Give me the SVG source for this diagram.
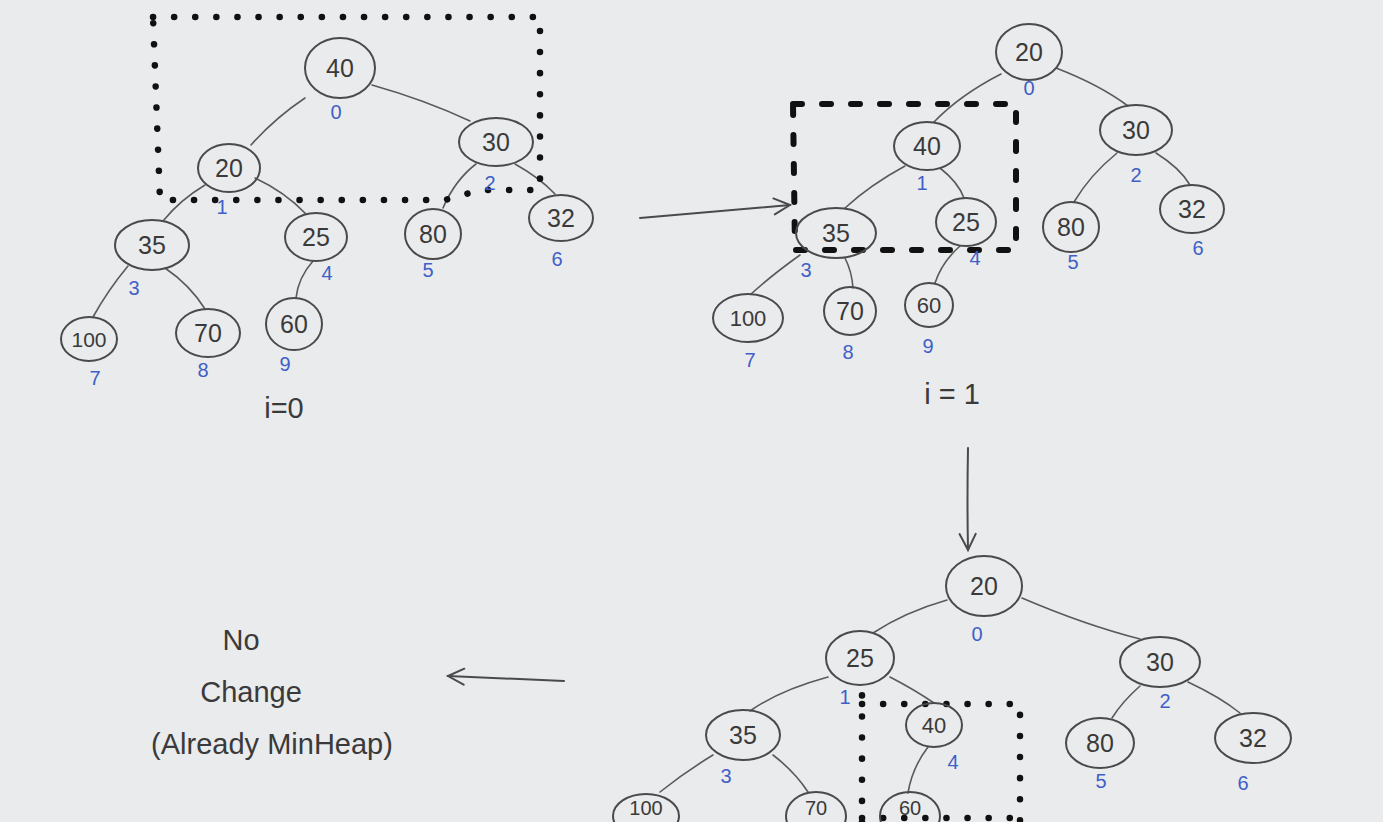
<svg xmlns="http://www.w3.org/2000/svg" width="1383" height="822" viewBox="0 0 1383 822">
<defs>
<style>
.bg{fill:#eaebed}
.n ellipse{fill:none;stroke:#4a4a4a;stroke-width:2}
.v{font-family:"Liberation Sans",Arial,sans-serif;font-size:25px;fill:#3a3a3a;text-anchor:middle;dominant-baseline:central}
.ix{font-family:"Liberation Sans",Arial,sans-serif;font-size:20px;fill:#3f5fc8;text-anchor:middle;dominant-baseline:central}
.lbl{font-family:"Liberation Sans",Arial,sans-serif;font-size:29px;fill:#3a3a3a;text-anchor:middle;dominant-baseline:central}
.e{fill:none;stroke:#5a5a5a;stroke-width:1.6;stroke-linecap:round}
.arr{fill:none;stroke:#4a4a4a;stroke-width:2;stroke-linecap:round}
.dot{fill:none;stroke:#111;stroke-width:6.5;stroke-linecap:round;stroke-dasharray:0.1 21}
.dash{fill:none;stroke:#111;stroke-width:6;stroke-linecap:round;stroke-dasharray:9 20}
</style>
<marker id="chev" viewBox="0 0 20 20" refX="18" refY="10" markerWidth="20" markerHeight="20" markerUnits="userSpaceOnUse" orient="auto">
<path d="M2,2 L18,10 L2,18" fill="none" stroke="#4a4a4a" stroke-width="2" stroke-linecap="round"/>
</marker>
</defs>
<rect class="bg" x="0" y="0" width="1383" height="822"/>

<g id="connectors">
<!-- tree 1 -->
<path class="e" d="M305,98 Q275,118 251,145"/>
<path class="e" d="M372,85 Q425,100 470,121"/>
<path class="e" d="M205,185 Q180,200 163,221"/>
<path class="e" d="M255,178 Q285,192 306,214"/>
<path class="e" d="M476,164 Q455,180 443,208"/>
<path class="e" d="M515,164 Q540,178 555,194"/>
<path class="e" d="M128,266 Q108,290 93,317"/>
<path class="e" d="M165,268 Q190,285 205,309"/>
<path class="e" d="M313,261 Q298,278 296,298"/>
<!-- tree 2 -->
<path class="e" d="M1001,74 Q960,95 934,122"/>
<path class="e" d="M1056,68 Q1100,85 1128,106"/>
<path class="e" d="M905,166 Q870,185 845,208"/>
<path class="e" d="M940,168 Q958,182 964,198"/>
<path class="e" d="M1117,153 Q1090,175 1074,202"/>
<path class="e" d="M1156,153 Q1180,168 1190,185"/>
<path class="e" d="M800,255 Q772,275 751,294"/>
<path class="e" d="M845,258 Q852,272 853,288"/>
<path class="e" d="M960,246 Q942,262 935,283"/>
<!-- tree 3 -->
<path class="e" d="M947,600 Q905,612 873,633"/>
<path class="e" d="M1022,598 Q1085,625 1140,639"/>
<path class="e" d="M828,677 Q780,690 750,711"/>
<path class="e" d="M890,677 Q915,690 934,703"/>
<path class="e" d="M1140,686 Q1122,702 1112,718"/>
<path class="e" d="M1188,682 Q1220,697 1240,713"/>
<path class="e" d="M713,755 Q685,772 660,792"/>
<path class="e" d="M773,755 Q795,772 808,792"/>
<path class="e" d="M928,747 Q912,768 908,793"/>
<!-- arrows between stages -->
<path class="arr" d="M640,218 L790,205" marker-end="url(#chev)"/>
<path class="arr" d="M968,448 Q967,500 968,550" marker-end="url(#chev)"/>
<path class="arr" d="M564,681 L448,676" marker-end="url(#chev)"/>
</g>

<g id="highlight-boxes">
<path class="dot" d="M153,17 H540 V190 H480 L445,200 H160 Z"/>
<path class="dash" d="M793,104 H1016 V250 H795 Z"/>
<path class="dot" d="M862,822 V690 M862,704 H1020 V822 M862,818 H1020"/>
</g>

<!-- Tree 1 (i=0) -->
<g id="t1-n0" class="n"><ellipse cx="340" cy="68" rx="35" ry="30"/><text class="v" x="340" y="68">40</text><text class="ix" x="336" y="112">0</text></g>
<g id="t1-n1" class="n"><ellipse cx="229" cy="168" rx="31" ry="24"/><text class="v" x="229" y="168">20</text><text class="ix" x="222" y="207">1</text></g>
<g id="t1-n2" class="n"><ellipse cx="496" cy="142" rx="37" ry="24"/><text class="v" x="496" y="142">30</text><text class="ix" x="490" y="183">2</text></g>
<g id="t1-n3" class="n"><ellipse cx="152" cy="245" rx="37" ry="25"/><text class="v" x="152" y="245">35</text><text class="ix" x="134" y="288">3</text></g>
<g id="t1-n4" class="n"><ellipse cx="316" cy="237" rx="31" ry="24"/><text class="v" x="316" y="237">25</text><text class="ix" x="327" y="273">4</text></g>
<g id="t1-n5" class="n"><ellipse cx="433" cy="234" rx="28" ry="25"/><text class="v" x="433" y="234">80</text><text class="ix" x="428" y="270">5</text></g>
<g id="t1-n6" class="n"><ellipse cx="561" cy="218" rx="32" ry="23"/><text class="v" x="561" y="218">32</text><text class="ix" x="557" y="259">6</text></g>
<g id="t1-n7" class="n"><ellipse cx="89" cy="339" rx="28" ry="22"/><text class="v" x="89" y="339" style="font-size:21px">100</text><text class="ix" x="95" y="378">7</text></g>
<g id="t1-n8" class="n"><ellipse cx="208" cy="333" rx="32" ry="24"/><text class="v" x="208" y="333">70</text><text class="ix" x="203" y="370">8</text></g>
<g id="t1-n9" class="n"><ellipse cx="294" cy="324" rx="28" ry="26"/><text class="v" x="294" y="324">60</text><text class="ix" x="285" y="364">9</text></g>
<text class="lbl" x="284" y="408">i=0</text>

<!-- Tree 2 (i=1) -->
<g id="t2-n0" class="n"><ellipse cx="1029" cy="52" rx="33" ry="28"/><text class="v" x="1029" y="52">20</text><text class="ix" x="1029" y="88">0</text></g>
<g id="t2-n1" class="n"><ellipse cx="927" cy="146" rx="33" ry="24"/><text class="v" x="927" y="146">40</text><text class="ix" x="922" y="183">1</text></g>
<g id="t2-n2" class="n"><ellipse cx="1136" cy="130" rx="36" ry="25"/><text class="v" x="1136" y="130">30</text><text class="ix" x="1136" y="175">2</text></g>
<g id="t2-n3" class="n"><ellipse cx="836" cy="233" rx="40" ry="25"/><text class="v" x="836" y="233">35</text><text class="ix" x="806" y="270">3</text></g>
<g id="t2-n4" class="n"><ellipse cx="966" cy="222" rx="30" ry="24"/><text class="v" x="966" y="222">25</text><text class="ix" x="975" y="258">4</text></g>
<g id="t2-n5" class="n"><ellipse cx="1071" cy="227" rx="28" ry="25"/><text class="v" x="1071" y="227">80</text><text class="ix" x="1073" y="262">5</text></g>
<g id="t2-n6" class="n"><ellipse cx="1192" cy="209" rx="32" ry="24"/><text class="v" x="1192" y="209">32</text><text class="ix" x="1198" y="248">6</text></g>
<g id="t2-n7" class="n"><ellipse cx="748" cy="318" rx="35" ry="24"/><text class="v" x="748" y="318" style="font-size:22px">100</text><text class="ix" x="750" y="360">7</text></g>
<g id="t2-n8" class="n"><ellipse cx="850" cy="311" rx="26" ry="24"/><text class="v" x="850" y="311">70</text><text class="ix" x="848" y="352">8</text></g>
<g id="t2-n9" class="n"><ellipse cx="929" cy="305" rx="24" ry="22"/><text class="v" x="929" y="305" style="font-size:22px">60</text><text class="ix" x="928" y="346">9</text></g>
<text class="lbl" x="952" y="394">i = 1</text>

<!-- Tree 3 -->
<g id="t3-n0" class="n"><ellipse cx="984" cy="586" rx="38" ry="30"/><text class="v" x="984" y="586">20</text><text class="ix" x="977" y="634">0</text></g>
<g id="t3-n1" class="n"><ellipse cx="860" cy="658" rx="34" ry="27"/><text class="v" x="860" y="658">25</text><text class="ix" x="845" y="697">1</text></g>
<g id="t3-n2" class="n"><ellipse cx="1160" cy="662" rx="40" ry="25"/><text class="v" x="1160" y="662">30</text><text class="ix" x="1165" y="701">2</text></g>
<g id="t3-n3" class="n"><ellipse cx="743" cy="735" rx="37" ry="25"/><text class="v" x="743" y="735">35</text><text class="ix" x="726" y="776">3</text></g>
<g id="t3-n4" class="n"><ellipse cx="934" cy="725" rx="28" ry="22"/><text class="v" x="934" y="725" style="font-size:22px">40</text><text class="ix" x="953" y="762">4</text></g>
<g id="t3-n5" class="n"><ellipse cx="1100" cy="743" rx="34" ry="25"/><text class="v" x="1100" y="743">80</text><text class="ix" x="1101" y="781">5</text></g>
<g id="t3-n6" class="n"><ellipse cx="1253" cy="738" rx="38" ry="25"/><text class="v" x="1253" y="738">32</text><text class="ix" x="1243" y="783">6</text></g>
<g id="t3-n7" class="n"><ellipse cx="646" cy="816" rx="33" ry="22"/><text class="v" x="646" y="808" style="font-size:20px">100</text></g>
<g id="t3-n8" class="n"><ellipse cx="816" cy="816" rx="30" ry="24"/><text class="v" x="816" y="808" style="font-size:20px">70</text></g>
<g id="t3-n9" class="n"><ellipse cx="910" cy="816" rx="30" ry="24"/><text class="v" x="910" y="808" style="font-size:20px">60</text></g>

<g id="note">
<text class="lbl" x="241" y="640">No</text>
<text class="lbl" x="251" y="692">Change</text>
<text class="lbl" x="272" y="744">(Already MinHeap)</text>
</g>
</svg>
